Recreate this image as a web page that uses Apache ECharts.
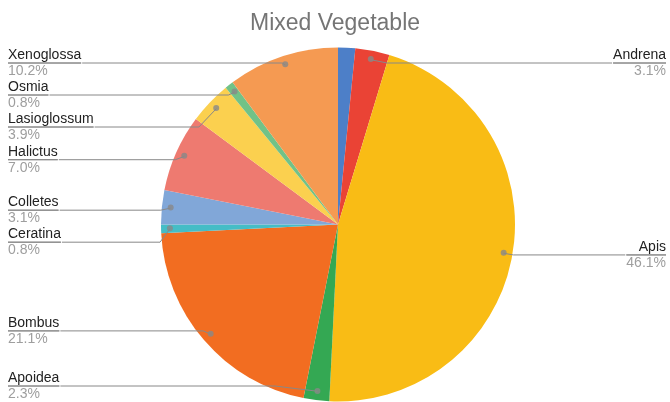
<!DOCTYPE html>
<html>
<head>
<meta charset="utf-8">
<script src="https://cdn.jsdelivr.net/npm/echarts@6/dist/echarts.min.js"></script>
<style>
  html, body { margin: 0; padding: 0; background: #fff; }
  #chart { width: 670px; height: 402px; }
</style>
</head>
<body>
<div id="chart"></div>
<script>
// ---- data (counts, slice order clockwise from 12 o'clock) ----
const titleText = 'Mixed Vegetable';
const categories = ['', 'Andrena', 'Apis', 'Apoidea', 'Bombus', 'Ceratina', 'Colletes', 'Halictus', 'Lasioglossum', 'Osmia', 'Xenoglossa'];
const counts = [2, 4, 59, 3, 27, 1, 4, 9, 5, 1, 13];
const colors = ['#4D7FC8', '#EA4335', '#F9BC15', '#34A853', '#F26D21', '#45BDC6', '#81A7D8', '#EE7A70', '#FBD04F', '#71C287', '#F59A52'];
const showLabel = [false, true, true, true, true, true, true, true, true, true, true];

const total = counts.reduce((a, b) => a + b, 0);
const FONT = '"Liberation Sans", Arial, sans-serif';
const LINE = '#888888';

const pieData = categories.map((c, i) => ({ name: c, value: counts[i], itemStyle: { color: colors[i] } }));
const labelData = categories.map((c, i) => ({
  name: c, value: counts[i],
  label: { show: showLabel[i] },
  labelLine: { show: showLabel[i] }
}));

// dots at slice midpoints (polar scatter: [radius, angle])
const dots = [];
let cum = 0;
counts.forEach((v, i) => {
  if (showLabel[i]) dots.push([0.95, cum + v / 2]);
  cum += v;
});

const box = { left: 4, top: 47, width: 666, height: 355 };

const chart = echarts.init(document.getElementById('chart'), null, { renderer: 'canvas' });
chart.setOption({
  animation: false,
  title: {
    text: titleText,
    left: 'center',
    top: 7,
    textStyle: { fontFamily: FONT, fontSize: 23, fontWeight: 'normal', color: '#757575' }
  },
  polar: { center: [338, 224], radius: 177 },
  angleAxis: { type: 'value', min: 0, max: total, startAngle: 90, clockwise: true, show: false },
  radiusAxis: { type: 'value', min: 0, max: 1, show: false },
  series: [
    {
      type: 'pie',
      left: box.left, top: box.top, width: box.width, height: box.height,
      center: ['50.15%', '50%'],
      radius: [0, 177],
      startAngle: 90,
      clockwise: true,
      silent: true,
      label: { show: false },
      labelLine: { show: false },
      itemStyle: { borderWidth: 0 },
      data: pieData,
      z: 1
    },
    {
      type: 'pie',
      left: box.left, top: box.top, width: box.width, height: box.height,
      center: ['50.15%', '50%'],
      radius: [0, 168],
      startAngle: 90,
      clockwise: true,
      silent: true,
      itemStyle: { color: 'rgba(0,0,0,0)', borderWidth: 0 },
      label: {
        position: 'outer',
        alignTo: 'edge',
        edgeDistance: 4,
        distanceToLabelLine: 0,
        formatter: p => '{name|' + p.name + '}\n{hr|}\n{pct|' + (p.value / total * 100).toFixed(1) + '%}',
        rich: {
          name: { fontFamily: FONT, fontSize: 14, color: '#222222', lineHeight: 16 },
          hr: { width: '100%', height: 0, lineHeight: 0, borderWidth: 1, borderColor: LINE },
          pct: { fontFamily: FONT, fontSize: 14, color: '#9E9E9E', lineHeight: 16 }
        }
      },
      labelLine: { length: 10, length2: 0, lineStyle: { color: LINE, width: 1 } },
      data: labelData,
      z: 2
    },
    {
      type: 'scatter',
      coordinateSystem: 'polar',
      symbolSize: 6,
      silent: true,
      itemStyle: { color: LINE },
      data: dots,
      z: 3
    }
  ]
});
</script>
</body>
</html>
